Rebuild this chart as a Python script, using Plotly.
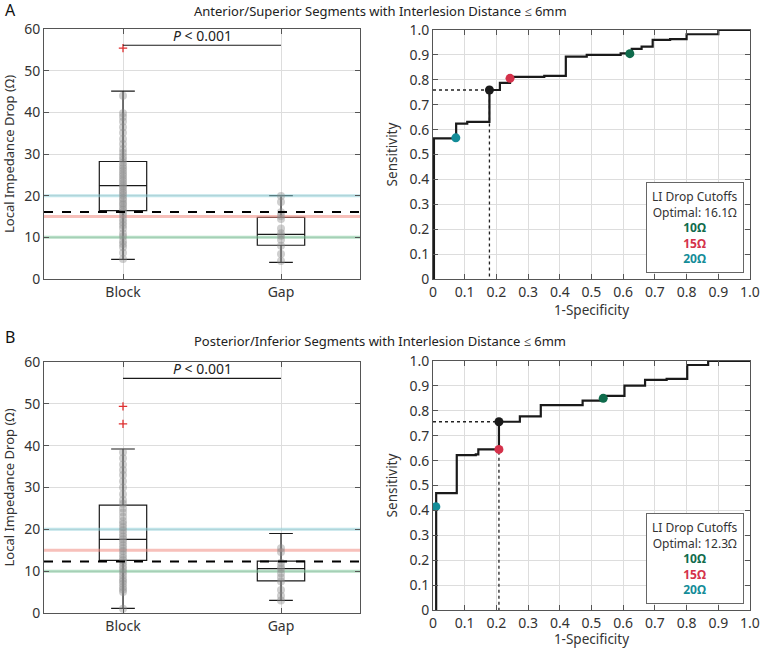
import plotly.graph_objects as go

FONT = "Noto Sans"
categories = ["Block", "Gap"]
cat_pos = [1, 2]

# ---------------- Panel A data ----------------
a_block_pts = [4.8, 6.3, 7.6, 8.4, 9.1, 10.2, 11.0, 12.1, 12.9, 13.6, 14.4, 15.3, 16.0, 16.6,
               17.1, 17.8, 18.2, 18.9, 19.4, 20.1, 20.7, 21.2, 21.9, 22.4, 22.9, 23.6, 24.1,
               24.8, 25.3, 26.0, 26.6, 27.2, 27.9, 28.6, 29.4, 30.3, 31.2, 32.4, 33.6, 35.1,
               36.4, 37.8, 38.9, 39.8, 44.0]
a_gap_pts = [4.3, 6.0, 8.0, 9.4, 10.4, 11.0, 12.1, 14.4, 15.1, 16.0, 18.5, 19.9]
a_outliers = [55.4]
a_q1 = [16.4, 8.1]
a_median = [22.4, 10.7]
a_q3 = [28.2, 14.8]
a_lower = [4.7, 4.0]
a_upper = [45.1, 20.0]
a_optimal = 16.1
a_roc_fpr = [0.003, 0.003, 0.073, 0.108, 0.178, 0.211, 0.243, 0.351, 0.419, 0.485, 0.592,
             0.627, 0.658, 0.693, 0.748, 0.800, 0.900, 1.0]
a_roc_tpr = [0.0, 0.565, 0.624, 0.631, 0.759, 0.788, 0.812, 0.816, 0.893, 0.900, 0.906,
             0.924, 0.933, 0.960, 0.963, 0.983, 1.0, 1.0]
a_cut_fpr = [0.621, 0.243, 0.072]
a_cut_tpr = [0.905, 0.806, 0.567]
a_opt_fpr, a_opt_tpr = 0.178, 0.759

# ---------------- Panel B data ----------------
b_block_pts = [1.0, 5.0, 5.6, 6.2, 7.0, 7.6, 8.2, 9.0, 9.8, 10.5, 11.2, 12.0, 12.6, 13.2,
               14.0, 14.8, 15.5, 16.2, 17.0, 17.6, 18.3, 19.0, 19.8, 20.5, 21.3, 22.0, 23.0,
               24.0, 25.0, 26.1, 27.0, 28.4, 30.0, 31.5, 33.0, 34.2, 35.5, 37.0, 38.4]
b_gap_pts = [3.0, 4.1, 5.5, 7.5, 8.5, 9.5, 10.5, 11.0, 12.0, 14.6, 15.5]
b_outliers = [45.2, 49.4]
b_q1 = [12.6, 7.7]
b_median = [17.6, 10.6]
b_q3 = [25.8, 12.4]
b_lower = [1.1, 3.0]
b_upper = [39.2, 19.0]
b_optimal = 12.3
b_roc_fpr = [0.010, 0.010, 0.075, 0.135, 0.143, 0.208, 0.274, 0.340, 0.472, 0.537, 0.604,
             0.669, 0.737, 0.802, 0.868, 1.0]
b_roc_tpr = [0.0, 0.469, 0.622, 0.625, 0.645, 0.756, 0.778, 0.823, 0.841, 0.860, 0.901,
             0.924, 0.928, 0.984, 1.0, 1.0]
b_cut_fpr = [0.537, 0.208, 0.009]
b_cut_tpr = [0.850, 0.645, 0.415]
b_opt_fpr, b_opt_tpr = 0.208, 0.756

cutoffs = [10, 15, 20]
cutoff_labels = ["10Ω", "15Ω", "20Ω"]
cut_colors = ["#0f6b4c", "#d4314a", "#138c98"]
cut_light = ["rgba(120,195,150,0.55)", "rgba(240,140,130,0.55)", "rgba(140,205,215,0.55)"]

titles = ["Anterior/Superior Segments with Interlesion Distance ≤ 6mm",
          "Posterior/Inferior Segments with Interlesion Distance ≤ 6mm"]

W, H = 760, 648
def px(x): return x / W
def py(y): return 1 - y / H

fig = go.Figure()

panels = [
    dict(bx="x", by="y", rx="x2", ry="y2", blk=a_block_pts, gap=a_gap_pts, out=a_outliers,
         q1=a_q1, med=a_median, q3=a_q3, lo=a_lower, hi=a_upper, opt=a_optimal,
         fpr=a_roc_fpr, tpr=a_roc_tpr, cf=a_cut_fpr, ct=a_cut_tpr, of=a_opt_fpr, ot=a_opt_tpr),
    dict(bx="x3", by="y3", rx="x4", ry="y4", blk=b_block_pts, gap=b_gap_pts, out=b_outliers,
         q1=b_q1, med=b_median, q3=b_q3, lo=b_lower, hi=b_upper, opt=b_optimal,
         fpr=b_roc_fpr, tpr=b_roc_tpr, cf=b_cut_fpr, ct=b_cut_tpr, of=b_opt_fpr, ot=b_opt_tpr),
]

for p in panels:
    # cutoff reference lines
    for c, col in zip(cutoffs, cut_light):
        fig.add_trace(go.Scatter(x=[0.5, 2.5], y=[c, c], mode="lines",
                                 line=dict(color=col, width=3), xaxis=p["bx"], yaxis=p["by"],
                                 showlegend=False, hoverinfo="skip"))
    # points
    fig.add_trace(go.Scatter(x=[1] * len(p["blk"]) + [2] * len(p["gap"]), y=p["blk"] + p["gap"],
                             mode="markers", marker=dict(color="rgba(140,140,140,0.42)", size=8),
                             xaxis=p["bx"], yaxis=p["by"], showlegend=False))
    # boxes
    fig.add_trace(go.Box(x=cat_pos, q1=p["q1"], median=p["med"], q3=p["q3"],
                         lowerfence=p["lo"], upperfence=p["hi"], width=0.3, whiskerwidth=0.5,
                         line=dict(color="#1a1a1a", width=1.2), fillcolor="rgba(0,0,0,0)",
                         boxpoints=False, xaxis=p["bx"], yaxis=p["by"], showlegend=False))
    # outliers
    fig.add_trace(go.Scatter(x=[1] * len(p["out"]), y=p["out"], mode="markers",
                             marker=dict(symbol="cross-thin", size=6, line=dict(color="#e03030", width=1.3)),
                             xaxis=p["bx"], yaxis=p["by"], showlegend=False))
    # optimal dashed line
    fig.add_trace(go.Scatter(x=[0.5, 2.5], y=[p["opt"], p["opt"]], mode="lines",
                             line=dict(color="black", width=2, dash="dash"),
                             xaxis=p["bx"], yaxis=p["by"], showlegend=False))
    # significance bracket
    fig.add_trace(go.Scatter(x=cat_pos, y=[56.1, 56.1], mode="lines",
                             line=dict(color="#1a1a1a", width=1.2),
                             xaxis=p["bx"], yaxis=p["by"], showlegend=False))
    # ROC
    fig.add_trace(go.Scatter(x=[0, p["of"], p["of"]], y=[p["ot"], p["ot"], 0], mode="lines",
                             line=dict(color="#222", width=1.3, dash="dot"),
                             xaxis=p["rx"], yaxis=p["ry"], showlegend=False))
    fig.add_trace(go.Scatter(x=p["fpr"], y=p["tpr"], mode="lines", line_shape="hv",
                             line=dict(color="#1a1a1a", width=2.2),
                             xaxis=p["rx"], yaxis=p["ry"], showlegend=False))
    fig.add_trace(go.Scatter(x=p["cf"] + [p["of"]], y=p["ct"] + [p["ot"]], mode="markers",
                             marker=dict(color=cut_colors + ["#1a1a1a"], size=9),
                             xaxis=p["rx"], yaxis=p["ry"], showlegend=False))

axis_common = dict(showline=True, linecolor="#555", linewidth=1, mirror="ticks",
                   ticks="inside", ticklen=5, tickcolor="#555", showgrid=True,
                   gridcolor="#dddddd", gridwidth=1, zeroline=False, automargin=False,
                   ticklabeloverflow="allow",
                   tickfont=dict(family=FONT, size=14, color="#333"))

box_dom_x = [px(44), px(360)]
roc_dom_x = [px(433), px(750)]
rows = [dict(box_y=[py(279), py(29)], roc_y=[py(279), py(30)]),
        dict(box_y=[py(613), py(362)], roc_y=[py(610), py(361)])]

dec = [i / 10 for i in range(11)]
dec_text = ["0"] + [f"{v:.1f}" for v in dec[1:]]

layout = dict(width=W, height=H, margin=dict(l=0, r=0, t=0, b=0, autoexpand=False),
              plot_bgcolor="white", paper_bgcolor="white",
              font=dict(family=FONT, size=13, color="#333"))
for i, r in enumerate(rows):
    n = 2 * i
    bx = "xaxis" if n == 0 else f"xaxis{n+1}"
    by = "yaxis" if n == 0 else f"yaxis{n+1}"
    rx = f"xaxis{n+2}"
    ry = f"yaxis{n+2}"
    anc_bx = "x" if n == 0 else f"x{n+1}"
    anc_by = "y" if n == 0 else f"y{n+1}"
    layout[bx] = dict(axis_common, domain=box_dom_x, range=[0.5, 2.5], tickvals=cat_pos,
                      ticktext=categories, anchor=anc_by)
    layout[by] = dict(axis_common, domain=r["box_y"], range=[0, 60], tickvals=list(range(0, 61, 10)),
                      anchor=anc_bx,
                      title=dict(text="Local Impedance Drop (Ω)", font=dict(family=FONT, size=13, color="#333"),
                                 standoff=14))
    layout[rx] = dict(axis_common, domain=roc_dom_x, range=[0, 1], tickvals=dec, ticktext=dec_text,
                      anchor=f"y{n+2}",
                      title=dict(text="1-Specificity", font=dict(family=FONT, size=13.5, color="#333"),
                                 standoff=0))
    layout[ry] = dict(axis_common, domain=r["roc_y"], range=[0, 1], tickvals=dec, ticktext=dec_text,
                      anchor=f"x{n+2}",
                      title=dict(text="Sensitivity", font=dict(family=FONT, size=13.5, color="#333"),
                                 standoff=8))

fig.update_layout(**layout)

annotations = []
opt_vals = [a_optimal, b_optimal]
title_y = [11, 341]
letter_y = [10, 337]
for i in range(2):
    n = 2 * i
    bx = "x" if n == 0 else f"x{n+1}"
    by = "y" if n == 0 else f"y{n+1}"
    rx = f"x{n+2}"
    ry = f"y{n+2}"
    annotations.append(dict(x=0.5, y=py(title_y[i]), xref="paper", yref="paper", text=titles[i],
                            showarrow=False, font=dict(family=FONT, size=13, color="#222"),
                            xanchor="center", yanchor="middle"))
    annotations.append(dict(x=px(3), y=py(letter_y[i]), xref="paper", yref="paper", text="AB"[i],
                            showarrow=False, font=dict(family=FONT, size=16, color="#111"),
                            xanchor="left", yanchor="middle"))
    annotations.append(dict(x=1.5, y=56.1, xref=bx, yref=by, text="<i>P</i> < 0.001",
                            showarrow=False, font=dict(family=FONT, size=14, color="#222"),
                            xanchor="center", yanchor="bottom", yshift=-2))
    legend_text = (f"LI Drop Cutoffs<br>Optimal: {opt_vals[i]}Ω<br>"
                   + "<br>".join(f"<span style='color:{c}'><b>{t}</b></span>"
                                 for t, c in zip(cutoff_labels, cut_colors)))
    annotations.append(dict(x=0.98, y=0.025, xref=f"{rx} domain", yref=f"{ry} domain",
                            text=legend_text, showarrow=False, align="center",
                            xanchor="right", yanchor="bottom",
                            font=dict(family=FONT, size=12, color="#333"),
                            bordercolor="#666", borderwidth=1, borderpad=5, bgcolor="white"))
fig.update_layout(annotations=annotations)

fig.write_html("out.html", config={"displayModeBar": False},
               post_script="document.body.style.margin='0';document.body.style.overflow='hidden';")
